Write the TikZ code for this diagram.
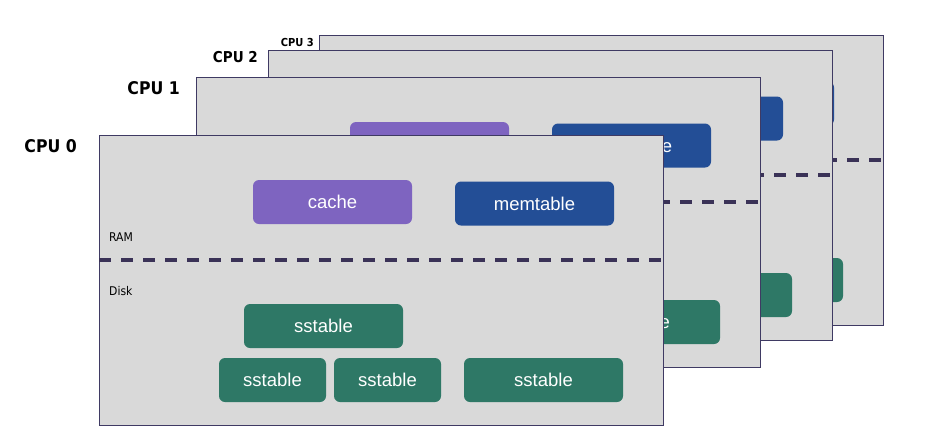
\documentclass[tikz,border=0pt]{standalone}
\usepackage{fontspec}
\setmainfont{Liberation Sans}
\newfontfamily\condfont{DejaVu Sans Condensed}
\definecolor{panelfill}{HTML}{D9D9D9}
\definecolor{panelline}{HTML}{3F3A63}
\definecolor{dashcol}{HTML}{3A3257}
\definecolor{cachecol}{HTML}{7E64C0}
\definecolor{memcol}{HTML}{234E96}
\definecolor{sscol}{HTML}{2E7866}
\tikzset{
  panel/.style={draw=panelline, line width=1.2pt, fill=panelfill, minimum width=564pt, minimum height=290pt, anchor=north west, inner sep=0pt},
  blk/.style={rounded corners=6pt, text=white, font=\fontsize{18.5}{20}\selectfont, minimum height=44pt, inner sep=0pt},
  cachebox/.style={blk, fill=cachecol, minimum width=159pt},
  membox/.style={blk, fill=memcol, minimum width=159pt},
  ssbox/.style={blk, fill=sscol, minimum width=159pt},
  sssmall/.style={blk, fill=sscol, minimum width=107pt},
  dashline/.style={draw=dashcol, line width=3.2pt, dash pattern=on 12pt off 10pt},
  tierlabel/.style={font=\condfont\fontsize{12}{14}\selectfont, anchor=base west, inner sep=0pt},
  cpulabel/.style={anchor=base east, inner sep=0pt},
}
% #1 id, #2 x, #3 y, #4 cache text, #5 memtable text, #6 RAM text,
% #7 Disk text, #8 text of the three left sstables, #9 text of the right sstable
\newcommand\cpupanel[9]{%
  \begin{scope}[shift={(#2,#3)}]
    \node[panel] (p#1) at (0,0) {};
    \node[cachebox] (cache#1) at (233.5,67) {#4};
    \node[membox] (mem#1) at (435.5,68.5) {#5};
    \coordinate (dl#1) at (0,125);
    \coordinate (dr#1) at (564,125);
    \draw[dashline] (dl#1) -- (dr#1);
    \node[tierlabel] (ram#1) at (10,106) {#6};
    \node[tierlabel] (disk#1) at (10,160) {#7};
    \node[ssbox] (ssa#1) at (224.5,191) {#8};
    \node[sssmall] (ssb#1) at (173.5,245) {#8};
    \node[sssmall] (ssc#1) at (288.5,245) {#8};
    \node[ssbox] (ssd#1) at (444.5,245) {#9};
  \end{scope}}
\begin{document}
\begin{tikzpicture}[x=1pt,y=-1pt]
  \useasboundingbox[fill=white] (0,0) rectangle (948,437);
  \cpupanel{3}{319}{35}{}{}{}{}{}{}
  \cpupanel{2}{268}{50}{}{}{}{}{}{}
  \cpupanel{1}{196}{77}{}{memtable}{}{}{}{sstable}
  \cpupanel{0}{99}{135}{cache}{memtable}{RAM}{Disk}{sstable}{sstable}
  \node[cpulabel, font=\condfont\bfseries\fontsize{11}{13}\selectfont] (l3) at (314,46) {CPU 3};
  \node[cpulabel, font=\condfont\bfseries\fontsize{15}{17}\selectfont] (l2) at (258,62) {CPU 2};
  \node[cpulabel, font=\condfont\bfseries\fontsize{17.5}{20}\selectfont] (l1) at (180,94) {CPU 1};
  \node[cpulabel, font=\condfont\bfseries\fontsize{17.5}{20}\selectfont] (l0) at (77,152) {CPU 0};
\end{tikzpicture}
\end{document}
